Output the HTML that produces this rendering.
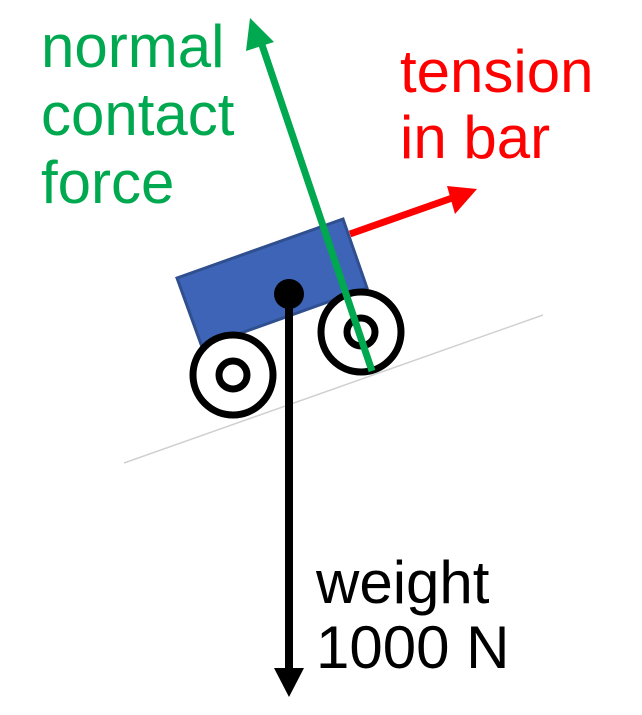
<!DOCTYPE html>
<html><head><meta charset="utf-8"><style>html,body{margin:0;padding:0;background:#fff}svg{display:block}</style></head>
<body>
<svg width="642" height="715" viewBox="0 0 642 715" xmlns="http://www.w3.org/2000/svg" font-family="Liberation Sans, sans-serif">
<line x1="124" y1="463" x2="543" y2="315" stroke="#d0d0d0" stroke-width="1.5"/>
<polygon points="177,278 343,219 367,288 202,347" fill="#3e64b8" stroke="#2f4f8f" stroke-width="3"/>
<circle cx="233" cy="375" r="40" fill="#fff" stroke="#000" stroke-width="7"/>
<circle cx="233" cy="375" r="14" fill="#fff" stroke="#000" stroke-width="7"/>
<circle cx="361" cy="332" r="40" fill="#fff" stroke="#000" stroke-width="7"/>
<circle cx="361" cy="332" r="14" fill="#fff" stroke="#000" stroke-width="7"/>
<line x1="289" y1="294" x2="289" y2="672" stroke="#000" stroke-width="8"/>
<polygon points="274,668 304,668 289,697" fill="#000"/>
<circle cx="289" cy="294" r="15" fill="#000"/>
<line x1="372" y1="371" x2="261" y2="42" stroke="#00a84f" stroke-width="7"/>
<polygon points="250,18 246,51 274,42" fill="#00a84f"/>
<line x1="350" y1="234" x2="455" y2="197" stroke="#ff0000" stroke-width="7"/>
<polygon points="477,189 447,186 455,214" fill="#ff0000"/>
<g fill="#00a84f" font-size="60">
<text x="41" y="67">normal</text>
<text x="41" y="135">contact</text>
<text x="41" y="203">force</text>
</g>
<g fill="#ff0000" font-size="60">
<text x="400" y="92">tension</text>
<text x="400" y="158">in bar</text>
</g>
<g fill="#000" font-size="60">
<text x="316" y="603">weight</text>
<text x="316" y="668">1000 N</text>
</g>
</svg>
</body></html>
